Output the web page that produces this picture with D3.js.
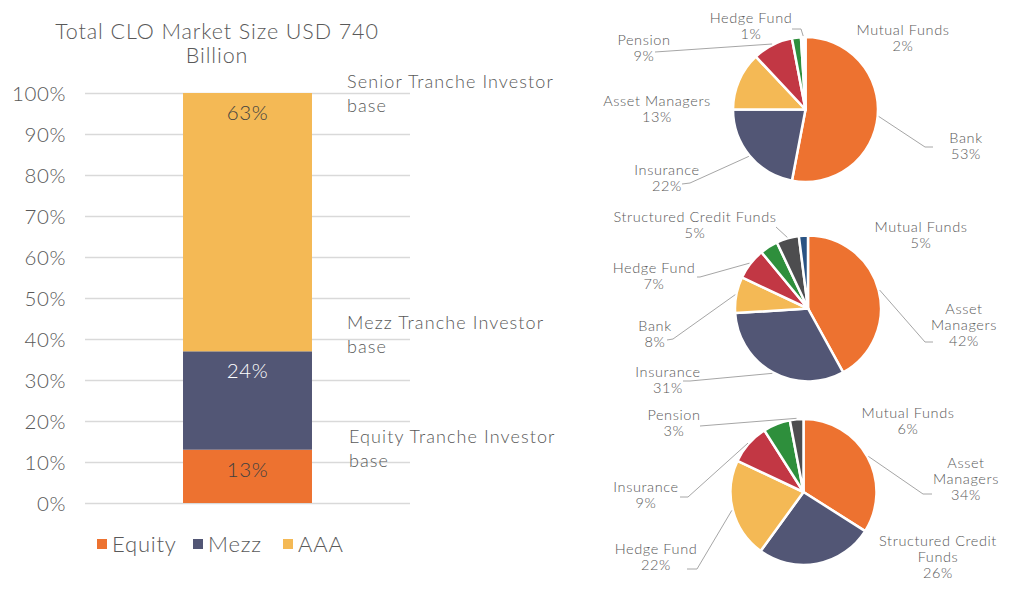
<!DOCTYPE html>
<html><head><meta charset="utf-8">
<script src="https://cdn.jsdelivr.net/npm/d3@7"></script>
<style>
html,body{margin:0;padding:0;background:#fff;}
svg text{font-family:Lato,"Open Sans",sans-serif;font-weight:300;fill:#595959;}
</style></head>
<body><svg id="c" width="1024" height="602"></svg>
<script>
// ---- Data: stacked bar ----
const trancheNames = ["Equity", "Mezz", "AAA"];
const trancheValues = [0.13, 0.24, 0.63];
const trancheLabels = ["13%", "24%", "63%"];
const yTicks = [0, 0.1, 0.2, 0.3, 0.4, 0.5, 0.6, 0.7, 0.8, 0.9, 1.0];
const yTickLabels = ["0%","10%","20%","30%","40%","50%","60%","70%","80%","90%","100%"];
const titleLines = ["Total CLO Market Size USD 740", "Billion"];
const annotations = [["Senior Tranche Investor", "base"], ["Mezz Tranche Investor", "base"], ["Equity Tranche Investor", "base"]];

// ---- Data: pies (slice order clockwise from 12 o'clock) ----
const seniorNames  = ["Bank", "Insurance", "Asset Managers", "Pension", "Mutual Funds", "Hedge Fund"];
const seniorValues = [53, 22, 13, 9, 2, 1];
const seniorLabels = ["53%", "22%", "13%", "9%", "2%", "1%"];

const mezzNames  = ["Asset Managers", "Insurance", "Bank", "Hedge Fund", "Other", "Structured Credit Funds", "Mutual Funds"];
const mezzValues = [42, 32, 8, 7, 4, 5, 2];
const mezzLabels = ["42%", "31%", "8%", "7%", null, "5%", "5%"];

const equityNames  = ["Asset Managers", "Structured Credit Funds", "Hedge Fund", "Insurance", "Mutual Funds", "Pension"];
const equityValues = [34, 26, 22, 9, 6, 3];
const equityLabels = ["34%", "26%", "22%", "9%", "6%", "3%"];

// ---- Styles ----
const trancheColors = {Equity:"#ED7230", Mezz:"#525675", AAA:"#F4B955"};
const pieColorOrder = {
  senior: ["#ED7230","#525675","#F4B955","#C23744","#2E8F3C","#ffffff"],
  mezz:   ["#ED7230","#525675","#F4B955","#C23744","#2E8F3C","#4D4D4F","#2A5383"],
  equity: ["#ED7230","#525675","#F4B955","#C23744","#2E8F3C","#4D4D4F"]
};

const svg = d3.select("#c");

// ================= Stacked bar =================
const y = d3.scaleLinear().domain([0, 1]).range([503, 93]);
const x = d3.scaleBand().domain(["CLO"]).range([85, 410]).paddingInner(0).paddingOuter(0.76);

svg.append("g").selectAll("line").data(yTicks).join("line")
  .attr("x1", 85).attr("x2", 410)
  .attr("y1", d => Math.round(y(d)) + 0.5).attr("y2", d => Math.round(y(d)) + 0.5)
  .attr("stroke", "#D9D9D9").attr("stroke-width", 1.3);

const yAxis = d3.axisLeft(y).tickValues(yTicks).tickFormat((d, i) => yTickLabels[i]).tickSize(0).tickPadding(0);
const gy = svg.append("g").attr("transform", "translate(66,0)").call(yAxis);
gy.select(".domain").remove();
gy.selectAll("text").attr("font-size", 20.5).attr("dy", "0.35em").attr("letter-spacing", 0.6)
  .style("font-family", "Lato, 'Open Sans', sans-serif").style("font-weight", 300).attr("fill", "#595959");

const row = {}; trancheNames.forEach((n, i) => row[n] = trancheValues[i]);
const stacked = d3.stack().keys(trancheNames)([row]);
const gb = svg.append("g");
gb.selectAll("rect").data(stacked).join("rect")
  .attr("x", x("CLO")).attr("width", x.bandwidth())
  .attr("y", d => y(d[0][1])).attr("height", d => y(d[0][0]) - y(d[0][1]))
  .attr("fill", d => trancheColors[d.key]);
gb.selectAll("text").data(stacked).join("text")
  .attr("x", x("CLO") + x.bandwidth() / 2)
  .attr("y", d => y(d[0][1]) + 20).attr("dy", "0.35em")
  .attr("text-anchor", "middle").attr("font-size", 20.5).attr("letter-spacing", 0.5)
  .style("fill", d => d.key === "Mezz" ? "#ffffff" : "#404040")
  .text((d, i) => trancheLabels[i]);

svg.append("g").selectAll("text").data(titleLines).join("text")
  .attr("x", 217).attr("y", (d, i) => 31 + i * 24).attr("dy", "0.35em")
  .attr("text-anchor", "middle").attr("font-size", 21.5).attr("letter-spacing", 0.9).text(d => d);

const annPos = [[347, 82], [347, 323], [349, 437]];
annotations.forEach((lines, k) => {
  svg.append("g").selectAll("text").data(lines).join("text")
    .attr("x", annPos[k][0]).attr("y", (d, i) => annPos[k][1] + i * 24).attr("dy", "0.35em")
    .attr("font-size", 18).attr("letter-spacing", 1.1).text(d => d);
});

const legX = [97, 193, 283];
const lg = svg.append("g").selectAll("g").data(trancheNames).join("g")
  .attr("transform", (d, i) => `translate(${legX[i]},539)`);
lg.append("rect").attr("width", 10).attr("height", 10).attr("fill", d => trancheColors[d]);
lg.append("text").attr("x", 15).attr("y", 5).attr("dy", "0.37em").attr("font-size", 22).attr("letter-spacing", 0.8).text(d => d);

// ================= Pies =================
function drawPie(cfg) {
  const g = svg.append("g").attr("transform", `translate(${cfg.cx},${cfg.cy})`);
  const pie = d3.pie().sort(null).value(d => d.v).startAngle(0).endAngle(2 * Math.PI);
  const data = cfg.names.map((n, i) => ({n, v: cfg.values[i], c: cfg.colors[i], lab: cfg.labels[i]}));
  const arcs = pie(data);
  const arc = d3.arc().innerRadius(0).outerRadius(cfg.r);
  g.selectAll("path").data(arcs).join("path")
    .attr("d", arc).attr("fill", d => d.data.c)
    .attr("stroke", "#fff").attr("stroke-width", 2.5).attr("stroke-linejoin", "round");
  const edge = d3.arc().innerRadius(cfg.r + 1).outerRadius(cfg.r + 1);
  cfg.place.forEach(p => {
    const a = arcs.find(d => d.data.n === p.name);
    if (p.leader) {
      const c = edge.centroid(a);
      const pts = [[cfg.cx + c[0], cfg.cy + c[1]]].concat(p.leader);
      svg.append("path").attr("d", d3.line()(pts)).attr("fill", "none")
        .attr("stroke", "#A6A6A6").attr("stroke-width", 1);
    }
    const lines = (p.split || [p.name]).concat([a.data.lab]);
    svg.append("g").selectAll("text").data(lines).join("text")
      .attr("x", p.x).attr("y", (d, i) => p.y + i * 16).attr("dy", "0.35em")
      .attr("text-anchor", "middle").attr("font-size", 14.5).attr("letter-spacing", 0.6).text(d => d);
  });
}

drawPie({
  cx: 805.5, cy: 109.5, r: 72.5,
  names: seniorNames, values: seniorValues, labels: seniorLabels, colors: pieColorOrder.senior,
  place: [
    {name: "Hedge Fund", x: 751, y: 18, leader: [[801, 29], [792, 29]]},
    {name: "Mutual Funds", x: 903, y: 30},
    {name: "Pension", x: 644, y: 40, leader: [[655, 52]]},
    {name: "Asset Managers", x: 657, y: 101},
    {name: "Insurance", x: 667, y: 170, leader: [[690, 183], [682, 184]]},
    {name: "Bank", x: 966, y: 138, leader: [[925, 147], [933, 147]]}
  ]
});

drawPie({
  cx: 808, cy: 308.5, r: 73,
  names: mezzNames, values: mezzValues, labels: mezzLabels, colors: pieColorOrder.mezz,
  place: [
    {name: "Structured Credit Funds", x: 695, y: 217, leader: [[776, 227]]},
    {name: "Mutual Funds", x: 921, y: 227},
    {name: "Hedge Fund", x: 654, y: 268, leader: [[700, 277], [697, 277]]},
    {name: "Bank", x: 655, y: 326, leader: [[673, 339], [667, 340]]},
    {name: "Insurance", x: 668, y: 372, leader: [[690, 381], [683, 381]]},
    {name: "Asset Managers", split: ["Asset", "Managers"], x: 964, y: 309, leader: [[925, 342], [933, 342]]}
  ]
});

drawPie({
  cx: 803.5, cy: 492, r: 73,
  names: equityNames, values: equityValues, labels: equityLabels, colors: pieColorOrder.equity,
  place: [
    {name: "Pension", x: 674, y: 415, leader: [[700, 426]]},
    {name: "Mutual Funds", x: 908, y: 413},
    {name: "Insurance", x: 646, y: 487, leader: [[688, 497], [680, 497]]},
    {name: "Hedge Fund", x: 656, y: 549, leader: [[697, 569], [687, 569]]},
    {name: "Asset Managers", split: ["Asset", "Managers"], x: 966, y: 463, leader: [[923, 494], [932, 494]]},
    {name: "Structured Credit Funds", split: ["Structured Credit", "Funds"], x: 938, y: 541}
  ]
});
</script></body></html>
